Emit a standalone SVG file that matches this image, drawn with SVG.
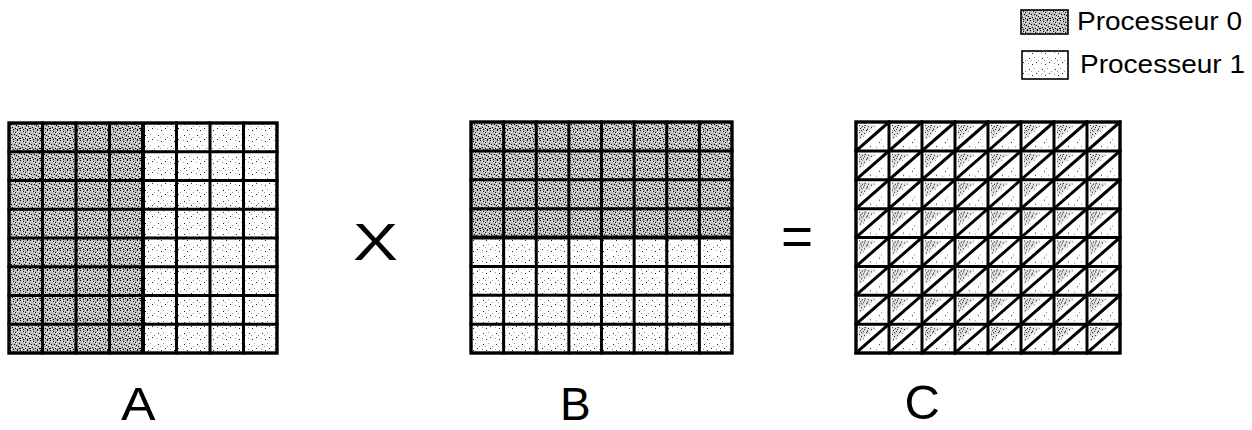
<svg xmlns="http://www.w3.org/2000/svg" width="1252" height="430" viewBox="0 0 1252 430">
<style>
.grid{fill:none;stroke:#000;stroke-width:3;stroke-linecap:square}
.thick{fill:none;stroke:#000;stroke-width:4}
.frame{fill:none;stroke:#000;stroke-width:3.4}
.sw{stroke:#000;stroke-width:1.6}
.lbl{font-family:"Liberation Sans",Arial,sans-serif;fill:#000}
</style>
<defs>
<pattern id="p0" patternUnits="userSpaceOnUse" width="10" height="10">
<rect width="10" height="10" fill="#bdbdbd"/>
<g fill="#000">
<rect x="0" y="0" width="1" height="1"/><rect x="3" y="1" width="1" height="1"/><rect x="7" y="0" width="1" height="1"/>
<rect x="5" y="2" width="1" height="1"/><rect x="9" y="3" width="1" height="1"/><rect x="1" y="4" width="1" height="1"/>
<rect x="4" y="4" width="1" height="1"/><rect x="6" y="5" width="1" height="1"/><rect x="8" y="6" width="1" height="1"/>
<rect x="2" y="7" width="1" height="1"/><rect x="0" y="8" width="1" height="1"/><rect x="5" y="8" width="1" height="1"/>
<rect x="7" y="9" width="1" height="1"/><rect x="3" y="9" width="1" height="1"/><rect x="9" y="8" width="1" height="1"/>
</g>
<g fill="#fff">
<rect x="2" y="1" width="1" height="1"/><rect x="8" y="1" width="1" height="1"/><rect x="6" y="3" width="1" height="1"/>
<rect x="0" y="5" width="1" height="1"/><rect x="3" y="6" width="1" height="1"/><rect x="9" y="5" width="1" height="1"/>
<rect x="1" y="9" width="1" height="1"/><rect x="6" y="7" width="1" height="1"/><rect x="4" y="2" width="1" height="1"/>
</g>
</pattern>
<pattern id="p1" patternUnits="userSpaceOnUse" width="13" height="11">
<rect width="13" height="11" fill="#fff"/>
<g fill="#222"><rect x="2" y="3" width="1" height="1"/><rect x="9" y="7" width="1" height="1"/><rect x="5" y="9" width="1" height="1"/></g>
<g fill="#999"><rect x="7" y="2" width="1" height="1"/><rect x="11" y="5" width="1" height="1"/><rect x="1" y="8" width="1" height="1"/><rect x="4" y="5" width="1" height="1"/></g>
</pattern>
<pattern id="pc" patternUnits="userSpaceOnUse" x="856" y="122" width="33" height="28.875">
<rect width="33" height="28.875" fill="#fff"/>
<polygon points="3,3 20,3 3,18" fill="#e2e2e2"/>
<g fill="#222">
<rect x="3" y="3" width="1" height="1"/><rect x="6" y="4" width="1" height="1"/><rect x="9" y="3" width="1" height="1"/>
<rect x="4" y="6" width="1" height="1"/><rect x="7" y="7" width="1" height="1"/><rect x="12" y="4" width="1" height="1"/>
<rect x="3" y="10" width="1" height="1"/><rect x="5" y="12" width="1" height="1"/><rect x="10" y="8" width="1" height="1"/>
<rect x="15" y="5" width="1" height="1"/><rect x="4" y="15" width="1" height="1"/><rect x="8" y="11" width="1" height="1"/>
<rect x="5" y="8" width="1" height="1"/><rect x="8" y="5" width="1" height="1"/><rect x="11" y="7" width="1" height="1"/>
<rect x="23" y="20" width="1" height="1"/><rect x="14" y="24" width="1" height="1"/>
</g>
<g fill="#888">
<rect x="5" y="5" width="1" height="1"/><rect x="8" y="3" width="1" height="1"/><rect x="11" y="6" width="1" height="1"/>
<rect x="3" y="8" width="1" height="1"/><rect x="6" y="9" width="1" height="1"/><rect x="18" y="4" width="1" height="1"/>
<rect x="7" y="14" width="1" height="1"/><rect x="13" y="9" width="1" height="1"/><rect x="27" y="24" width="1" height="1"/>
<rect x="20" y="25" width="1" height="1"/><rect x="25" y="17" width="1" height="1"/>
</g>
</pattern>
</defs>
<rect width="1252" height="430" fill="#fff"/>

<g id="legend">
<rect class="sw" x="1021" y="10" width="47" height="24" fill="url(#p0)"/>
<rect class="sw" x="1022" y="51" width="46" height="28" fill="url(#p1)"/>
<text class="lbl" x="1077" y="30" font-size="25" textLength="165" lengthAdjust="spacingAndGlyphs">Processeur 0</text>
<text class="lbl" x="1080" y="73" font-size="25" textLength="165" lengthAdjust="spacingAndGlyphs">Processeur 1</text>
</g>

<g id="matrix-A">
<rect x="9" y="123" width="134" height="230" fill="url(#p0)"/>
<rect x="143" y="123" width="134" height="230" fill="url(#p1)"/>
<path class="grid" d="M42.5 123V353M76 123V353M109.5 123V353M176.5 123V353M210 123V353M243.5 123V353M9 151.75H277M9 180.5H277M9 209.25H277M9 238H277M9 266.75H277M9 295.5H277M9 324.25H277"/>
<path class="thick" d="M143 123V353"/>
<rect class="frame" x="9" y="123" width="268" height="230"/>
<text class="lbl" x="121" y="420" font-size="47" textLength="34.5" lengthAdjust="spacingAndGlyphs">A</text>
</g>

<g id="operator-times">
<text class="lbl" x="353" y="260" font-size="52" textLength="45" lengthAdjust="spacingAndGlyphs">X</text>
</g>

<g id="matrix-B">
<rect x="471" y="122" width="261" height="115.5" fill="url(#p0)"/>
<rect x="471" y="237.5" width="261" height="115.5" fill="url(#p1)"/>
<path class="grid" d="M503.625 122V353M536.25 122V353M568.875 122V353M601.5 122V353M634.125 122V353M666.75 122V353M699.375 122V353M471 150.875H732M471 179.75H732M471 208.625H732M471 266.375H732M471 295.25H732M471 324.125H732"/>
<path class="thick" d="M471 237.5H732"/>
<rect class="frame" x="471" y="122" width="261" height="231"/>
<text class="lbl" x="560" y="420" font-size="46">B</text>
</g>

<g id="operator-equals">
<text class="lbl" x="781" y="255" font-size="55">=</text>
</g>

<g id="matrix-C">
<rect x="856" y="122" width="264" height="231" fill="url(#pc)"/>
<path class="grid" d="M889 122V353M922 122V353M955 122V353M988 122V353M1021 122V353M1054 122V353M1087 122V353M856 150.875H1120M856 179.75H1120M856 208.625H1120M856 237.5H1120M856 266.375H1120M856 295.25H1120M856 324.125H1120"/>
<path class="grid" d="M856 150.875L889 122M856 179.75L922 122M856 208.625L955 122M856 237.5L988 122M856 266.375L1021 122M856 295.25L1054 122M856 324.125L1087 122M856 353L1120 122M889 353L1120 150.875M922 353L1120 179.75M955 353L1120 208.625M988 353L1120 237.5M1021 353L1120 266.375M1054 353L1120 295.25M1087 353L1120 324.125"/>
<rect class="frame" x="856" y="122" width="264" height="231"/>
<text class="lbl" x="904.5" y="419" font-size="49">C</text>
</g>
</svg>
